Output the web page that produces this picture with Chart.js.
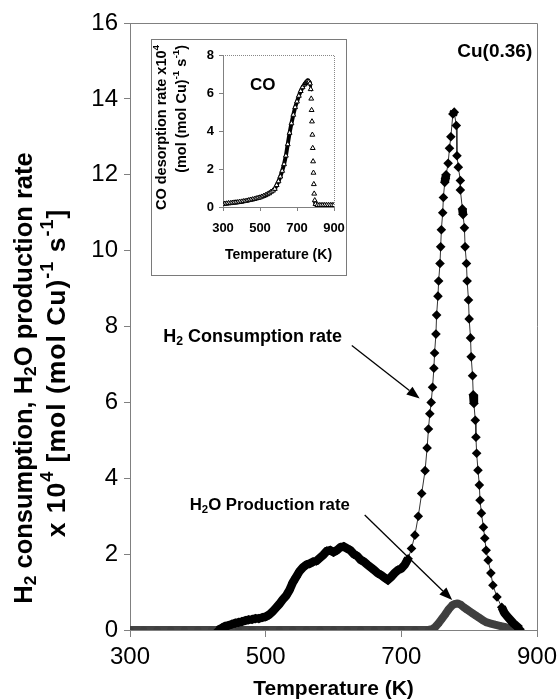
<!DOCTYPE html>
<html>
<head>
<meta charset="utf-8">
<script src="https://cdn.jsdelivr.net/npm/chart.js@4.4.0/dist/chart.umd.min.js"></script>
<style>
  body { margin: 0; background: #fff; }
  #wrap { position: relative; width: 558px; height: 700px; }
  #inset { position: absolute; left: 151px; top: 39px; width: 194px; height: 235px;
           border: 1px solid #7a7a7a; background: #fff; }
</style>
</head>
<body>
<div id="wrap">
  <canvas id="main" width="558" height="700"></canvas>
  <div id="inset"><canvas id="co" width="194" height="235"></canvas></div>
</div>
<script>
// H2 consumption rate (x10^4 mol (mol Cu)^-1 s^-1) vs temperature (K)
const h2Temp = [430,435,440,445,450,455,460,465,470,475,480,485,490,495,500,505,510,515,520,525,
  530,535,540,545,550,555,560,565,570,575,580,585,590,595,600,605,610,615,620,625,
  630,635,640,645,650,655,660,665,670,675,680,685,690,695,700,705,710,715,720,725,
  730,735,738,740,742,744,746,748,749,751,752,754,755,757,758,759,761,762,764,765,
  766,769,771,773,776,778,781,782,784,787,787,790,791,793,794,796,797,799,800,802,
  803,805,806,807,809,810,811,813,815,816,818,821,823,825,828,832,835,841,848,852,
  856,860,865,870,875];
const h2Rate = [0.0,0.05,0.1,0.12,0.15,0.18,0.2,0.22,0.25,0.27,0.28,0.3,0.3,0.33,0.35,0.4,0.48,0.58,0.68,0.8,
  0.9,1.05,1.25,1.4,1.55,1.65,1.72,1.75,1.8,1.82,1.9,1.98,2.08,2.1,2.05,2.1,2.18,2.2,2.15,2.1,
  2.0,1.95,1.85,1.8,1.72,1.65,1.58,1.5,1.45,1.38,1.32,1.4,1.5,1.58,1.62,1.72,1.88,2.15,2.5,3.0,
  3.6,4.2,4.8,5.3,5.7,6.0,6.4,6.9,7.3,7.8,8.3,8.8,9.2,9.66,10.1,10.55,11.0,11.4,11.8,11.9,
  12.0,12.3,12.7,13.0,13.6,13.65,13.3,12.5,12.2,11.85,11.6,11.1,10.95,10.6,10.1,9.66,9.2,8.7,8.2,7.7,
  7.2,6.7,6.2,5.97,5.53,5.08,4.66,4.21,3.82,3.42,3.08,2.71,2.42,2.1,1.84,1.5,1.18,0.87,0.6,0.45,
  0.36,0.28,0.18,0.1,0.02];

// H2O production rate
const h2oTemp = [300,320,340,360,380,400,420,440,460,480,500,520,540,560,580,600,620,640,660,680,
  700,720,740,745,750,755,760,765,770,775,778,783,788,792,796,800,805,810,815,820,
  826,832,838,845,852,858,864];
const h2oRate = [0,0,0,0,0,0,0,0,0,0,0,0,0,0,0,0,0,0,0,0,
  0,0,0,0.02,0.08,0.18,0.3,0.42,0.55,0.65,0.68,0.7,0.66,0.6,0.55,0.5,0.44,0.38,0.32,0.26,
  0.2,0.17,0.14,0.11,0.08,0.05,0.02];

// CO desorption rate (inset)
const coTemp = [300,310,320,330,340,350,360,370,380,390,400,410,420,430,440,450,460,470,480,490,
  500,510,520,530,540,550,560,570,580,590,600,610,620,630,640,650,660,670,680,690,
  700,710,720,730,740,745,750,755,760,765,770,774,777,779,781,783,785,787,789,791,
  793,796,800,810,820,830,840,850,860,870,880,890,900];
const coRate = [0.15,0.17,0.18,0.2,0.2,0.22,0.23,0.24,0.25,0.27,0.28,0.3,0.31,0.33,0.36,0.38,0.4,0.42,0.45,0.48,
  0.5,0.54,0.58,0.62,0.67,0.72,0.8,0.86,0.95,1.15,1.35,1.6,1.9,2.25,2.7,3.3,3.9,4.4,4.85,5.25,
  5.55,5.85,6.1,6.3,6.45,6.52,6.58,6.62,6.62,6.6,6.5,6.2,5.7,5.1,4.5,3.8,3.1,2.4,1.8,1.2,
  0.7,0.35,0.15,0.1,0.1,0.1,0.1,0.1,0.1,0.1,0.1,0.1,0.1];

const xTicks = [300, 500, 700, 900];
const FONT = 'Arial, "Liberation Sans", sans-serif';

function pairs(xs, ys) {
  return xs.map((x, i) => ({ x: x, y: ys[i] }));
}

// draws a run of text pieces, some as subscript / superscript
function richWidth(ctx, parts, size) {
  let w = 0;
  parts.forEach(p => {
    ctx.font = 'bold ' + (p.s ? size * 0.68 : size) + 'px ' + FONT;
    w += ctx.measureText(p.t).width;
  });
  return w;
}
function drawRich(ctx, parts, x, y, size) {
  parts.forEach(p => {
    const sz = p.s ? size * 0.68 : size;
    ctx.font = 'bold ' + sz + 'px ' + FONT;
    let dy = 0;
    if (p.s === 'sub') dy = size * 0.25;
    if (p.s === 'sup') dy = -size * 0.38;
    ctx.fillText(p.t, x, y + dy);
    x += ctx.measureText(p.t).width;
  });
}
function rotatedRich(ctx, parts, cx, cy, size, align, spacing) {
  ctx.save();
  ctx.translate(cx, cy);
  ctx.rotate(-Math.PI / 2);
  ctx.fillStyle = '#000';
  ctx.textBaseline = 'middle';
  ctx.textAlign = 'left';
  ctx.letterSpacing = (spacing || 0) + 'px';
  const w = richWidth(ctx, parts, size);
  const start = align === 'end' ? -w : -w / 2;
  drawRich(ctx, parts, start, 0, size);
  ctx.restore();
}

function arrow(ctx, x1, y1, x2, y2) {
  const a = Math.atan2(y2 - y1, x2 - x1);
  const len = 13, half = 5;
  ctx.strokeStyle = '#000';
  ctx.fillStyle = '#000';
  ctx.lineWidth = 1.3;
  ctx.beginPath();
  ctx.moveTo(x1, y1);
  ctx.lineTo(x2 - len * Math.cos(a), y2 - len * Math.sin(a));
  ctx.stroke();
  ctx.beginPath();
  ctx.moveTo(x2, y2);
  ctx.lineTo(x2 - len * Math.cos(a) + half * Math.sin(a), y2 - len * Math.sin(a) - half * Math.cos(a));
  ctx.lineTo(x2 - len * Math.cos(a) - half * Math.sin(a), y2 - len * Math.sin(a) + half * Math.cos(a));
  ctx.closePath();
  ctx.fill();
}

function segLen(c) {
  return Math.hypot(c.p1.x - c.p0.x, c.p1.y - c.p0.y);
}

// keep the plot box fixed, whatever the end labels need
function fixX(height) {
  return s => { s.height = height; s.paddingLeft = 0; s.paddingRight = 0; };
}

// plot frame, y title, labels and arrows of the main chart
const mainDecor = {
  id: 'mainDecor',
  beforeDatasetsDraw(chart) {
    const { ctx, chartArea: a } = chart;
    ctx.save();
    ctx.strokeStyle = '#808080';
    ctx.lineWidth = 1;
    ctx.beginPath();
    ctx.moveTo(a.left, a.top + 0.5);
    ctx.lineTo(a.right + 0.5, a.top + 0.5);
    ctx.lineTo(a.right + 0.5, a.bottom);
    ctx.stroke();
    ctx.restore();
  },
  afterDraw(chart) {
    const { ctx, scales: { x, y } } = chart;
    ctx.save();
    rotatedRich(ctx, [{ t: 'H' }, { t: '2', s: 'sub' }, { t: ' consumption, H' }, { t: '2', s: 'sub' },
      { t: 'O production rate' }], 25, 378, 25.5);
    rotatedRich(ctx, [{ t: 'x 10' }, { t: '4', s: 'sup' }, { t: ' [mol (mol Cu)' }, { t: '-1', s: 'sup' },
      { t: ' s' }, { t: '-1', s: 'sup' }, { t: ']' }], 58, 373, 26.5, 'center', 1);

    ctx.fillStyle = '#000';
    ctx.textBaseline = 'middle';
    ctx.textAlign = 'left';
    drawRich(ctx, [{ t: 'H' }, { t: '2', s: 'sub' }, { t: ' Consumption rate' }],
      x.getPixelForValue(349), y.getPixelForValue(7.71), 18);
    drawRich(ctx, [{ t: 'H' }, { t: '2', s: 'sub' }, { t: 'O Production rate' }],
      x.getPixelForValue(388), y.getPixelForValue(3.29), 16.8);
    ctx.textAlign = 'right';
    ctx.font = 'bold 19px ' + FONT;
    ctx.fillText('Cu(0.36)', x.getPixelForValue(893), y.getPixelForValue(15.25));

    arrow(ctx, x.getPixelForValue(627), y.getPixelForValue(7.5), x.getPixelForValue(727), y.getPixelForValue(6.1));
    arrow(ctx, x.getPixelForValue(646), y.getPixelForValue(3.03), x.getPixelForValue(775), y.getPixelForValue(0.79));
    ctx.restore();
  }
};

new Chart(document.getElementById('main'), {
  type: 'scatter',
  data: {
    datasets: [
      {
        label: 'H2 consumption',
        data: pairs(h2Temp, h2Rate),
        showLine: true,
        borderColor: '#333',
        borderWidth: 1,
        segment: {
          borderWidth: c => segLen(c) < 9 ? 8.5 : 1,
          borderColor: c => segLen(c) < 9 ? '#000' : '#333'
        },
        pointStyle: 'rectRot',
        pointRadius: 4.8,
        pointBorderWidth: 0,
        pointBackgroundColor: '#000'
      },
      {
        label: 'H2O production',
        data: pairs(h2oTemp, h2oRate),
        showLine: true,
        borderColor: '#444',
        borderWidth: 8,
        borderCapStyle: 'round',
        borderJoinStyle: 'round',
        pointStyle: 'circle',
        pointRadius: 3.5,
        pointBorderWidth: 0,
        pointBackgroundColor: '#3f3f3f'
      }
    ]
  },
  options: {
    responsive: false,
    animation: false,
    layout: { padding: { top: 23, right: 21, left: 0, bottom: 0 } },
    plugins: { legend: { display: false }, tooltip: { enabled: false } },
    scales: {
      x: {
        type: 'linear', min: 300, max: 900,
        afterBuildTicks: s => { s.ticks = xTicks.map(v => ({ value: v })); },
        afterFit: fixX(70),
        ticks: { color: '#000', font: { family: FONT, size: 24 }, padding: 6, maxRotation: 0 },
        grid: { drawOnChartArea: false, color: '#808080', tickLength: 7 },
        border: { color: '#808080' },
        title: { display: true, text: 'Temperature (K)', color: '#000',
                 font: { family: FONT, size: 21, weight: 'bold' }, padding: { top: 0, bottom: -2 } }
      },
      y: {
        min: 0, max: 16,
        afterFit: s => { s.width = 130; },
        ticks: { stepSize: 2, color: '#000', font: { family: FONT, size: 24 }, padding: 6 },
        grid: { drawOnChartArea: false, color: '#808080', tickLength: 6 },
        border: { color: '#808080' }
      }
    }
  },
  plugins: [mainDecor]
});

// inset: frame, title and the CO label
const insetDecor = {
  id: 'insetDecor',
  beforeDatasetsDraw(chart) {
    const { ctx, chartArea: a } = chart;
    ctx.save();
    ctx.strokeStyle = '#888';
    ctx.setLineDash([1, 1]);
    ctx.beginPath();
    ctx.moveTo(a.left, a.top + 0.5);
    ctx.lineTo(a.right + 0.5, a.top + 0.5);
    ctx.lineTo(a.right + 0.5, a.bottom);
    ctx.stroke();
    ctx.restore();
  },
  afterDraw(chart) {
    const { ctx, scales: { x, y } } = chart;
    ctx.save();
    rotatedRich(ctx, [{ t: 'CO desorption rate x10' }, { t: '4', s: 'sup' }], 10, 5, 14.5, 'end');
    rotatedRich(ctx, [{ t: '(mol (mol Cu)' }, { t: '-1', s: 'sup' }, { t: ' s' }, { t: '-1', s: 'sup' },
      { t: ')' }], 30, 5, 14.5, 'end');
    ctx.fillStyle = '#000';
    ctx.font = 'bold 17px ' + FONT;
    ctx.textAlign = 'center';
    ctx.textBaseline = 'middle';
    ctx.fillText('CO', x.getPixelForValue(515), y.getPixelForValue(6.4));
    ctx.restore();
  }
};

new Chart(document.getElementById('co'), {
  type: 'scatter',
  data: {
    datasets: [{
      label: 'CO',
      data: pairs(coTemp, coRate),
      showLine: true,
      borderWidth: 4,
      segment: {
        borderColor: c => (coTemp[c.p1DataIndex] <= 770 || coTemp[c.p0DataIndex] >= 796) ? '#000' : 'rgba(0,0,0,0)'
      },
      pointStyle: 'triangle',
      pointRadius: 2.8,
      pointBorderWidth: 1,
      pointBorderColor: '#000',
      pointBackgroundColor: '#fff'
    }]
  },
  options: {
    responsive: false,
    animation: false,
    layout: { padding: { top: 15, right: 12, left: 0, bottom: 0 } },
    plugins: { legend: { display: false }, tooltip: { enabled: false } },
    scales: {
      x: {
        type: 'linear', min: 300, max: 900,
        afterBuildTicks: s => { s.ticks = xTicks.map(v => ({ value: v })); },
        afterFit: fixX(68),
        ticks: { color: '#000', font: { family: FONT, size: 13, weight: 'bold' }, padding: 10, maxRotation: 0 },
        grid: { drawOnChartArea: false, color: '#808080', tickLength: 4 },
        border: { color: '#808080' },
        title: { display: true, text: 'Temperature (K)', color: '#000',
                 font: { family: FONT, size: 14, weight: 'bold' }, padding: { top: 0, bottom: 11 } }
      },
      y: {
        min: 0, max: 8,
        afterFit: s => { s.width = 71; },
        ticks: { stepSize: 2, color: '#000', font: { family: FONT, size: 13, weight: 'bold' }, padding: 5 },
        grid: { drawOnChartArea: false, color: '#808080', tickLength: 4 },
        border: { color: '#808080' }
      }
    }
  },
  plugins: [insetDecor]
});
</script>
</body>
</html>
